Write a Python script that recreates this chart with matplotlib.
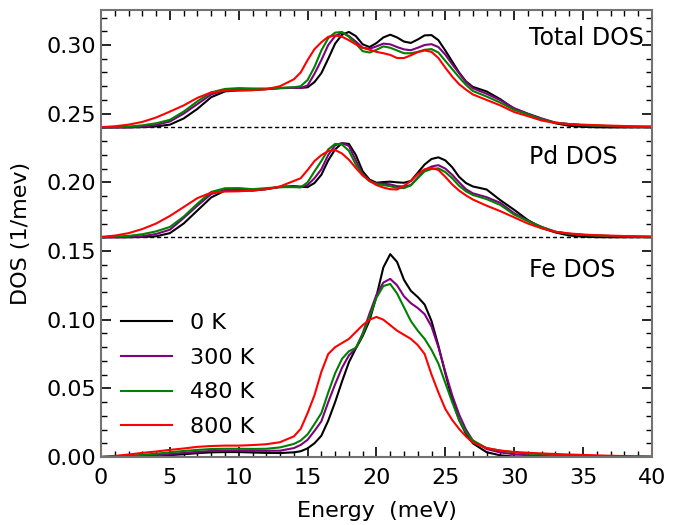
import numpy as np
import matplotlib
matplotlib.use('Agg')
import matplotlib.pyplot as plt
from matplotlib.ticker import MultipleLocator

# energy grid (meV)
energy = [0, 1, 2, 3, 4, 5, 6, 7, 8, 9, 10, 11, 12, 13, 14, 14.5, 15, 15.5, 16, 16.5,
          17, 17.5, 18, 18.5, 19, 19.5, 20, 20.5, 21, 21.5, 22, 22.5, 23, 23.5, 24, 24.5,
          25, 25.5, 26, 26.5, 27, 28, 29, 30, 31, 32, 33, 34, 35, 36, 37, 38, 39, 40]

temps = ['0 K', '300 K', '480 K', '800 K']
colors = ['black', 'purple', 'green', 'red']

# Total DOS (plotted with offset 0.24)
total_0 = [0, 0, 0, 0.0002, 0.0007, 0.0020, 0.0065, 0.0135, 0.0220, 0.0262, 0.0270, 0.0272, 0.0278, 0.0287,
           0.0290, 0.0288, 0.0292, 0.0330, 0.0395, 0.0500, 0.0610, 0.0675, 0.0695, 0.0665, 0.0605, 0.0585,
           0.0614, 0.0655, 0.0675, 0.0655, 0.0625, 0.0615, 0.0640, 0.0670, 0.0672, 0.0635, 0.0560, 0.0480,
           0.0400, 0.0335, 0.0295, 0.0262, 0.0205, 0.0135, 0.0098, 0.0062, 0.0030, 0.0012, 0.0004, 0.0001,
           0, 0, 0, 0]
total_300 = [0, 0, 0.0001, 0.0005, 0.0018, 0.0043, 0.0100, 0.0170, 0.0240, 0.0272, 0.0280, 0.0280, 0.0281, 0.0285,
             0.0288, 0.0287, 0.0305, 0.0390, 0.0490, 0.0600, 0.0665, 0.0690, 0.0665, 0.0625, 0.0580, 0.0572,
             0.0590, 0.0610, 0.0605, 0.0585, 0.0568, 0.0562, 0.0580, 0.0600, 0.0606, 0.0585, 0.0530, 0.0460,
             0.0395, 0.0330, 0.0285, 0.0245, 0.0198, 0.0140, 0.0100, 0.0065, 0.0035, 0.0024, 0.0016, 0.0012,
             0.0009, 0.0006, 0.0004, 0.0003]
total_480 = [0, 0.0002, 0.0006, 0.0015, 0.0030, 0.0055, 0.0115, 0.0190, 0.0255, 0.0280, 0.0286, 0.0283, 0.0282, 0.0287,
             0.0292, 0.0300, 0.0345, 0.0440, 0.0560, 0.0650, 0.0690, 0.0695, 0.0660, 0.0610, 0.0555, 0.0545,
             0.0565, 0.0590, 0.0580, 0.0560, 0.0540, 0.0540, 0.0550, 0.0565, 0.0570, 0.0545, 0.0485, 0.0425,
             0.0365, 0.0310, 0.0265, 0.0225, 0.0180, 0.0128, 0.0095, 0.0058, 0.0035, 0.0024, 0.0016, 0.0012,
             0.0009, 0.0006, 0.0004, 0.0003]
total_800 = [0.0002, 0.0008, 0.0020, 0.0040, 0.0072, 0.0115, 0.0160, 0.0215, 0.0255, 0.0267, 0.0269, 0.0271, 0.0278, 0.0300,
             0.0350, 0.0400, 0.0490, 0.0570, 0.0620, 0.0660, 0.0670, 0.0660, 0.0635, 0.0605, 0.0580, 0.0565,
             0.0550, 0.0540, 0.0528, 0.0505, 0.0505, 0.0525, 0.0548, 0.0560, 0.0550, 0.0505, 0.0435, 0.0370,
             0.0315, 0.0275, 0.0240, 0.0200, 0.0160, 0.0112, 0.0082, 0.0050, 0.0032, 0.0024, 0.0020, 0.0016,
             0.0013, 0.0010, 0.0008, 0.0007]

# Pd DOS (plotted with offset 0.16)
pd_0 = [0, 0, 0, 0.0002, 0.0007, 0.0030, 0.0100, 0.0195, 0.0290, 0.0340, 0.0342, 0.0340, 0.0350, 0.0368,
        0.0372, 0.0368, 0.0365, 0.0395, 0.0455, 0.0560, 0.0640, 0.0685, 0.0680, 0.0600, 0.0480, 0.0420,
        0.0397, 0.0402, 0.0405, 0.0400, 0.0397, 0.0410, 0.0470, 0.0530, 0.0570, 0.0582, 0.0560, 0.0510,
        0.0440, 0.0395, 0.0370, 0.0348, 0.0270, 0.0200, 0.0125, 0.0068, 0.0035, 0.0013, 0.0004, 0.0001,
        0, 0, 0, 0]
pd_300 = [0, 0, 0.0002, 0.0008, 0.0024, 0.0055, 0.0140, 0.0230, 0.0315, 0.0345, 0.0348, 0.0345, 0.0352, 0.0365,
          0.0368, 0.0368, 0.0380, 0.0430, 0.0495, 0.0600, 0.0670, 0.0686, 0.0665, 0.0560, 0.0460, 0.0410,
          0.0392, 0.0390, 0.0385, 0.0372, 0.0370, 0.0380, 0.0435, 0.0490, 0.0515, 0.0525, 0.0500, 0.0455,
          0.0400, 0.0350, 0.0320, 0.0292, 0.0250, 0.0175, 0.0120, 0.0075, 0.0040, 0.0025, 0.0017, 0.0012,
          0.0009, 0.0006, 0.0004, 0.0003]
pd_480 = [0, 0.0005, 0.0010, 0.0022, 0.0043, 0.0075, 0.0150, 0.0245, 0.0330, 0.0357, 0.0358, 0.0350, 0.0358, 0.0365,
          0.0365, 0.0363, 0.0400, 0.0480, 0.0555, 0.0640, 0.0680, 0.0675, 0.0630, 0.0530, 0.0455, 0.0410,
          0.0387, 0.0380, 0.0372, 0.0360, 0.0358, 0.0378, 0.0430, 0.0480, 0.0497, 0.0502, 0.0475, 0.0430,
          0.0375, 0.0335, 0.0308, 0.0278, 0.0235, 0.0165, 0.0118, 0.0075, 0.0040, 0.0025, 0.0017, 0.0012,
          0.0009, 0.0006, 0.0004, 0.0003]
pd_800 = [0.0003, 0.0012, 0.0030, 0.0060, 0.0100, 0.0155, 0.0220, 0.0285, 0.0325, 0.0333, 0.0335, 0.0340, 0.0350, 0.0370,
          0.0410, 0.0430, 0.0490, 0.0555, 0.0598, 0.0628, 0.0635, 0.0610, 0.0565, 0.0505, 0.0450, 0.0410,
          0.0380, 0.0362, 0.0350, 0.0348, 0.0375, 0.0410, 0.0460, 0.0495, 0.0505, 0.0490, 0.0440, 0.0385,
          0.0340, 0.0305, 0.0275, 0.0230, 0.0190, 0.0145, 0.0100, 0.0065, 0.0040, 0.0028, 0.0020, 0.0015,
          0.0012, 0.0009, 0.0007, 0.0005]

# Fe DOS (no offset)
fe_0 = [0, 0, 0, 0.0004, 0.0010, 0.0014, 0.0020, 0.0028, 0.0034, 0.0036, 0.0036, 0.0033, 0.0030, 0.0029,
        0.0034, 0.0042, 0.0063, 0.0100, 0.0155, 0.0265, 0.0400, 0.0550, 0.0690, 0.0790, 0.0880, 0.0995,
        0.1170, 0.1380, 0.1477, 0.1420, 0.1290, 0.1210, 0.1165, 0.1110, 0.0990, 0.0810, 0.0610, 0.0420,
        0.0270, 0.0170, 0.0100, 0.0035, 0.0012, 0.0003, 0.0001, 0, 0, 0, 0, 0,
        0, 0, 0, 0]
fe_300 = [0, 0.0001, 0.0004, 0.0008, 0.0013, 0.0022, 0.0030, 0.0038, 0.0044, 0.0046, 0.0046, 0.0045, 0.0045, 0.0046,
          0.0065, 0.0088, 0.0125, 0.0190, 0.0260, 0.0400, 0.0530, 0.0650, 0.0740, 0.0790, 0.0900, 0.1045,
          0.1180, 0.1270, 0.1297, 0.1250, 0.1170, 0.1120, 0.1085, 0.1040, 0.0950, 0.0800, 0.0620, 0.0450,
          0.0310, 0.0200, 0.0120, 0.0058, 0.0033, 0.0020, 0.0013, 0.0008, 0.0005, 0.0003, 0.0002, 0.0001,
          0.0001, 0.0001, 0.0001, 0.0001]
fe_480 = [0, 0.0003, 0.0008, 0.0016, 0.0024, 0.0034, 0.0044, 0.0052, 0.0058, 0.0060, 0.0060, 0.0059, 0.0060, 0.0070,
          0.0095, 0.0120, 0.0165, 0.0240, 0.0320, 0.0470, 0.0610, 0.0715, 0.0770, 0.0795, 0.0890, 0.1020,
          0.1160, 0.1245, 0.1260, 0.1190, 0.1090, 0.0990, 0.0920, 0.0860, 0.0780, 0.0680, 0.0540, 0.0400,
          0.0270, 0.0180, 0.0120, 0.0065, 0.0046, 0.0034, 0.0026, 0.0020, 0.0016, 0.0012, 0.0009, 0.0007,
          0.0005, 0.0004, 0.0003, 0.0002]
fe_800 = [0.0002, 0.0008, 0.0018, 0.0030, 0.0040, 0.0052, 0.0062, 0.0074, 0.0080, 0.0083, 0.0083, 0.0087, 0.0093, 0.0108,
          0.0150, 0.0205, 0.0320, 0.0450, 0.0620, 0.0750, 0.0800, 0.0830, 0.0860, 0.0910, 0.0960, 0.1000,
          0.1020, 0.1000, 0.0960, 0.0920, 0.0890, 0.0860, 0.0815, 0.0750, 0.0600, 0.0470, 0.0350, 0.0270,
          0.0205, 0.0150, 0.0105, 0.0065, 0.0047, 0.0037, 0.0031, 0.0026, 0.0022, 0.0018, 0.0015, 0.0012,
          0.0009, 0.0007, 0.0005, 0.0003]

total_offset = 0.24
pd_offset = 0.16

E = np.array(energy)
fig = plt.figure(figsize=(6.84, 5.25), dpi=100)
ax = fig.add_axes([0.1477, 0.1295, 0.8053, 0.8515])

ax.axhline(total_offset, color='black', ls='--', lw=1, dashes=(3, 2))
ax.axhline(pd_offset, color='black', ls='--', lw=1, dashes=(3, 2))

totals = [total_0, total_300, total_480, total_800]
pds = [pd_0, pd_300, pd_480, pd_800]
fes = [fe_0, fe_300, fe_480, fe_800]
for t, c, tot, pdd, fe in zip(temps, colors, totals, pds, fes):
    ax.plot(E, np.array(tot) + total_offset, color=c, lw=1.5, solid_joinstyle='round')
    ax.plot(E, np.array(pdd) + pd_offset, color=c, lw=1.5, solid_joinstyle='round')
    ax.plot(E, fe, color=c, lw=1.5, solid_joinstyle='round', label=t)

ax.text(31.1, 0.305, 'Total DOS', fontsize=17, va='center', ha='left')
ax.text(31.1, 0.2185, 'Pd DOS', fontsize=17, va='center', ha='left')
ax.text(31.1, 0.136, 'Fe DOS', fontsize=17, va='center', ha='left')

ax.set_xlim(0, 40)
ax.set_ylim(0, 0.3255)
ax.xaxis.set_major_locator(MultipleLocator(5))
ax.xaxis.set_minor_locator(MultipleLocator(1))
ax.yaxis.set_major_locator(MultipleLocator(0.05))
ax.yaxis.set_minor_locator(MultipleLocator(0.01))
ax.tick_params(which='both', direction='in', top=True, right=True, labelsize=16)
ax.tick_params(which='major', length=7, width=1.2)
ax.tick_params(axis='x', which='major', pad=8)
ax.tick_params(which='minor', length=4, width=1)
for s in ax.spines.values():
    s.set_color('0.45')
    s.set_linewidth(1.5)

ax.set_xlabel('Energy  (meV)', fontsize=16, labelpad=9)
ax.set_ylabel('DOS (1/mev)', fontsize=16, labelpad=11)
ax.legend(loc='lower left', frameon=False, fontsize=16, handlelength=2.3, labelspacing=0.66)

plt.savefig('out.png')
